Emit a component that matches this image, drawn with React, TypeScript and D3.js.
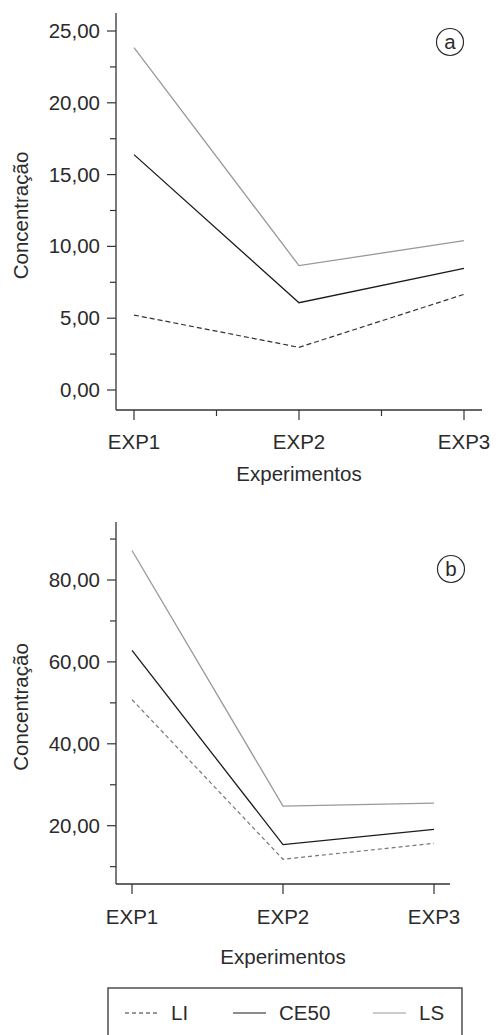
import React from 'react';
import * as d3 from 'd3';

// data
const experiments = ['EXP1', 'EXP2', 'EXP3'];
const liA = [5.22, 2.97, 6.66];
const ce50A = [16.39, 6.08, 8.47];
const lsA = [23.84, 8.66, 10.4];
const liB = [50.8, 11.8, 15.7];
const ce50B = [62.8, 15.4, 19.1];
const lsB = [87.2, 24.8, 25.5];
const ticksA = [0, 5, 10, 15, 20, 25];
const minorA = [2.5, 7.5, 12.5, 17.5, 22.5];
const ticksB = [20, 40, 60, 80];
const minorB = [10, 30, 50, 70, 90];
const legendLabels = ['LI', 'CE50', 'LS'];

const ptBR = d3.formatLocale({ decimal: ',', thousands: '.', grouping: [3], currency: ['R$', ''] });
const fmt = ptBR.format('.2f');

const FONT = '"Liberation Sans", Arial, sans-serif';
const FS = 20.5;
const TXT = '#2b2b2b';
const AX = '#333';

function Panel(props) {
    const { x, y, li, ce, ls, ticks, minor, xMinor, axisTop, axisBottom, axisRight, tag, tagPos, labelY, titleY, liColor, liDash } = props;
    const axisX = 116;

    const line = d3
        .line()
        .x((_, i) => x(experiments[i]))
        .y((d) => y(d));

    const mids = xMinor
        ? experiments.slice(1).map((e, i) => (x(experiments[i]) + x(e)) / 2)
        : [];

    return (
        <g>
            {/* y axis */}
            <line x1={axisX} x2={axisX} y1={axisTop} y2={axisBottom} stroke={AX} strokeWidth={1.3} />
            {ticks.map((t) => (
                <g key={t}>
                    <line x1={axisX - 9} x2={axisX} y1={y(t)} y2={y(t)} stroke={AX} strokeWidth={1.2} />
                    <text x={100} y={y(t) + 7} textAnchor="end" fontSize={FS} fill={TXT}>{fmt(t)}</text>
                </g>
            ))}
            {minor.map((t) => (
                <line key={t} x1={axisX - 6} x2={axisX} y1={y(t)} y2={y(t)} stroke={AX} strokeWidth={1.2} />
            ))}
            <text
                transform={`translate(28, ${(axisTop + axisBottom) / 2 + 4}) rotate(-90)`}
                textAnchor="middle"
                fontSize={FS}
                fill={TXT}
            >Concentração</text>

            {/* x axis */}
            <line x1={axisX} x2={axisRight} y1={axisBottom} y2={axisBottom} stroke={AX} strokeWidth={1.3} />
            {experiments.map((e) => (
                <g key={e}>
                    <line x1={x(e)} x2={x(e)} y1={axisBottom} y2={axisBottom + 10} stroke={AX} strokeWidth={1.2} />
                    <text x={x(e)} y={labelY} textAnchor="middle" fontSize={FS} fill={TXT}>{e}</text>
                </g>
            ))}
            {mids.map((m) => (
                <line key={m} x1={m} x2={m} y1={axisBottom} y2={axisBottom + 6} stroke={AX} strokeWidth={1.2} />
            ))}
            <text x={(axisX + axisRight) / 2} y={titleY} textAnchor="middle" fontSize={FS} fill={TXT}>Experimentos</text>

            {/* series */}
            <path d={line(ls)} fill="none" stroke="#999" strokeWidth={1.3} />
            <path d={line(ce)} fill="none" stroke="#1a1a1a" strokeWidth={1.3} />
            <path d={line(li)} fill="none" stroke={liColor} strokeWidth={1.2} strokeDasharray={liDash} />

            {/* panel tag */}
            <circle cx={tagPos[0]} cy={tagPos[1]} r={13.5} fill="none" stroke={TXT} strokeWidth={1.2} />
            <text x={tagPos[0]} y={tagPos[1] + 7} textAnchor="middle" fontSize={FS} fill={TXT}>{tag}</text>
        </g>
    );
}

export default function App() {
    const xA = d3.scalePoint().domain(experiments).range([134, 464]);
    const yA = d3.scaleLinear().domain([0, 25]).range([390, 31]);
    const xB = d3.scalePoint().domain(experiments).range([132, 434]);
    const yB = d3.scaleLinear().domain([20, 80]).range([825.7, 580]);

    const legendStyles = [
        { stroke: '#333', dash: '4,3' },
        { stroke: '#1a1a1a', dash: null },
        { stroke: '#999', dash: null },
    ];
    const legendPos = [125, 233, 373];

    return (
        <svg width={502} height={1035} style={{ position: 'absolute', left: 0, top: 0, fontFamily: FONT }}>
            <rect width={502} height={1035} fill="#fff" />
            <Panel
                x={xA} y={yA} li={liA} ce={ce50A} ls={lsA}
                ticks={ticksA} minor={minorA} xMinor={true}
                axisTop={13} axisBottom={410} axisRight={482}
                tag="a" tagPos={[450, 42]} labelY={449} titleY={481}
                liColor="#333" liDash="5,3"
            />
            <Panel
                x={xB} y={yB} li={liB} ce={ce50B} ls={lsB}
                ticks={ticksB} minor={minorB} xMinor={false}
                axisTop={522} axisBottom={884} axisRight={450}
                tag="b" tagPos={[451, 569]} labelY={924} titleY={964}
                liColor="#777" liDash="4,3"
            />

            {/* legend (box runs off the bottom edge) */}
            <rect x={108} y={988} width={354} height={60} fill="none" stroke={AX} strokeWidth={1.3} />
            {legendLabels.map((l, i) => (
                <g key={l}>
                    <line
                        x1={legendPos[i]} x2={legendPos[i] + 33} y1={1013} y2={1013}
                        stroke={legendStyles[i].stroke} strokeWidth={1.2}
                        strokeDasharray={legendStyles[i].dash || undefined}
                    />
                    <text x={legendPos[i] + 46} y={1020} fontSize={FS} fill={TXT}>{l}</text>
                </g>
            ))}
        </svg>
    );
}
